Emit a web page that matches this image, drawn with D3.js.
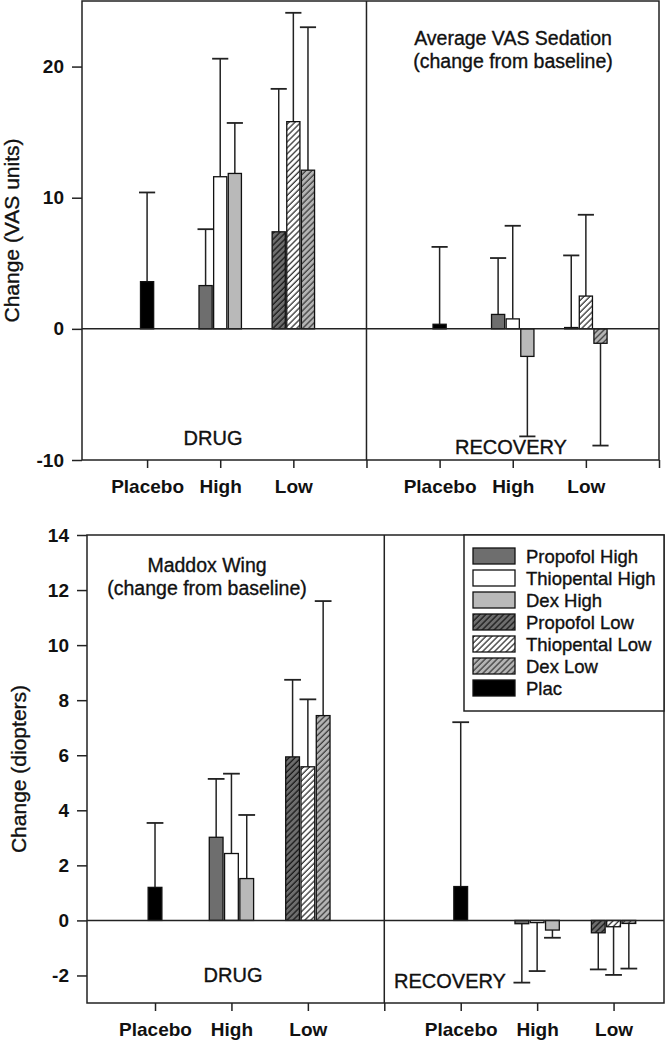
<!DOCTYPE html>
<html>
<head>
<meta charset="utf-8">
<script src="https://cdn.jsdelivr.net/npm/d3@7"></script>
<style>
  body { margin: 0; background: #fff; }
  text { font-family: "Liberation Sans", Arial, sans-serif; fill: #111; }
  .thick { stroke: #111; stroke-width: 0.35px; }
</style>
</head>
<body>
<div id="chart"></div>
<script>
// categories
var groups = ["Placebo", "High", "Low"];
var phases = ["DRUG", "RECOVERY"];
var series = ["Plac", "Propofol High", "Thiopental High", "Dex High", "Propofol Low", "Thiopental Low", "Dex Low"];
var seriesGroup = ["Placebo", "High", "High", "High", "Low", "Low", "Low"];
var legendOrder = ["Propofol High", "Thiopental High", "Dex High", "Propofol Low", "Thiopental Low", "Dex Low", "Plac"];

// VAS sedation (mean change, SD)
var vasDrugMean = [3.6, 3.3, 11.6, 11.85, 7.4, 15.8, 12.1];
var vasDrugSd = [6.8, 4.3, 9.0, 3.85, 10.9, 8.3, 10.9];
var vasRecMean = [0.35, 1.1, 0.76, -2.1, 0.1, 2.5, -1.1];
var vasRecSd = [5.9, 4.3, 7.1, 6.1, 5.5, 6.2, 7.8];
var vasTicks = [-10, 0, 10, 20];

// Maddox wing (mean change, SD)
var mwDrugMean = [1.2, 3.02, 2.43, 1.52, 5.94, 5.58, 7.44];
var mwDrugSd = [2.34, 2.12, 2.9, 2.31, 2.8, 2.45, 4.16];
var mwRecMean = [1.23, -0.12, -0.08, -0.35, -0.45, -0.23, -0.11];
var mwRecSd = [5.97, 2.14, 1.76, 0.28, 1.33, 1.75, 1.64];
var mwTicks = [-2, 0, 2, 4, 6, 8, 10, 12, 14];

var fills = {
  "Plac": "#000000",
  "Propofol High": "#6e6e6e",
  "Thiopental High": "#ffffff",
  "Dex High": "#b9b9b9",
  "Propofol Low": "url(#hatch_dark)",
  "Thiopental Low": "url(#hatch_white)",
  "Dex Low": "url(#hatch_light)"
};

var svg = d3.select('#chart').append('svg')
  .attr('width', 666)
  .attr('height', 1046);

// hatch patterns
var defs = svg.append('defs');
function hatch(id, bg, lineColor){
  var p = defs.append('pattern')
    .attr('id', id)
    .attr('patternUnits', 'userSpaceOnUse')
    .attr('width', 4.2)
    .attr('height', 4.2)
    .attr('patternTransform', 'rotate(45)');
  p.append('rect').attr('width', 4.2).attr('height', 4.2).attr('fill', bg);
  p.append('line')
    .attr('x1', 1).attr('y1', 0).attr('x2', 1).attr('y2', 4.2)
    .attr('stroke', lineColor).attr('stroke-width', 1.2);
}
hatch('hatch_dark', '#6e6e6e', '#111');
hatch('hatch_white', '#ffffff', '#222');
hatch('hatch_light', '#b4b4b4', '#333');

function drawPanel(cfg){
  var x = d3.scaleLinear().domain(cfg.xDomain).range([cfg.left, cfg.right]);
  var y = d3.scaleLinear().domain(cfg.yDomain).range([cfg.bottom, cfg.top]);
  var g = svg.append('g');

  // frame
  g.append('rect')
    .attr('x', cfg.left).attr('y', cfg.top)
    .attr('width', cfg.right - cfg.left).attr('height', cfg.bottom - cfg.top)
    .attr('fill', 'none').attr('stroke', '#222').attr('stroke-width', 1.5);

  // divider between drug and recovery
  g.append('line')
    .attr('x1', x(4)).attr('x2', x(4))
    .attr('y1', cfg.top).attr('y2', cfg.bottom)
    .attr('stroke', '#222').attr('stroke-width', 1.5);

  // y axis
  var yAxis = d3.axisLeft(y).tickValues(cfg.yTicks).tickSize(10).tickSizeOuter(0).tickPadding(8)
    .tickFormat(function(d){ return String(d); });
  var ya = g.append('g')
    .attr('transform', `translate(${cfg.left},0)`)
    .call(yAxis);
  ya.select('.domain').remove();
  ya.selectAll('line').attr('stroke', '#222').attr('stroke-width', 1.5);
  ya.selectAll('text').style('font-size', '19px').style('font-weight', 'bold')
    .style('font-family', '"Liberation Sans", Arial, sans-serif').attr('fill', '#111');

  // x axis
  var xAxis = d3.axisBottom(x).tickValues(cfg.xTicks).tickSize(8).tickSizeOuter(0).tickPadding(12)
    .tickFormat(function(d){
      if (d === 4 || d > 7) return '';
      return groups[(d - 1) % 4];
    });
  var xa = g.append('g')
    .attr('transform', `translate(0,${cfg.bottom})`)
    .call(xAxis);
  xa.select('.domain').remove();
  xa.selectAll('line').attr('stroke', '#222').attr('stroke-width', 1.5);
  xa.selectAll('text').style('font-size', '19px').style('font-weight', 'bold')
    .style('font-family', '"Liberation Sans", Arial, sans-serif').attr('fill', '#111');

  // bars
  var bw = 0.18;
  [cfg.drug, cfg.rec].forEach(function(ph, pi){
    var rows = series.map(function(s, i){
      var grp = seriesGroup[i];
      var members = seriesGroup.filter(function(v){ return v === grp; }).length;
      var slot = seriesGroup.slice(0, i).filter(function(v){ return v === grp; }).length - (members - 1) / 2;
      return {
        key: s,
        pos: pi * 4 + 1 + groups.indexOf(grp) + slot * 0.2,
        mean: ph.mean[i],
        sd: ph.sd[i]
      };
    });

    // error bars (one-sided, away from zero)
    var err = g.selectAll(null).data(rows).enter().append('g');
    err.append('line')
      .attr('x1', function(d){ return x(d.pos); })
      .attr('x2', function(d){ return x(d.pos); })
      .attr('y1', function(d){ return y(d.mean); })
      .attr('y2', function(d){ return y(d.mean + (d.mean < 0 ? -d.sd : d.sd)); })
      .attr('stroke', '#222').attr('stroke-width', 1.5);
    err.append('line')
      .attr('x1', function(d){ return x(d.pos - bw / 2) - 1.5; })
      .attr('x2', function(d){ return x(d.pos + bw / 2) + 1.5; })
      .attr('y1', function(d){ return y(d.mean + (d.mean < 0 ? -d.sd : d.sd)); })
      .attr('y2', function(d){ return y(d.mean + (d.mean < 0 ? -d.sd : d.sd)); })
      .attr('stroke', '#222').attr('stroke-width', 1.8);

    g.selectAll(null).data(rows).enter().append('rect')
      .attr('x', function(d){ return x(d.pos - bw / 2); })
      .attr('width', function(d){ return x(d.pos + bw / 2) - x(d.pos - bw / 2); })
      .attr('y', function(d){ return y(Math.max(0, d.mean)); })
      .attr('height', function(d){ return Math.abs(y(d.mean) - y(0)); })
      .attr('fill', function(d){ return fills[d.key]; })
      .attr('stroke', '#111').attr('stroke-width', 1.3);
  });

  // zero line
  g.append('line')
    .attr('x1', cfg.left).attr('x2', cfg.right)
    .attr('y1', y(0)).attr('y2', y(0))
    .attr('stroke', '#222').attr('stroke-width', 1.5);

  // phase labels
  g.append('text').text(phases[0]).attr('class', 'thick')
    .attr('x', cfg.drugLabel[0]).attr('y', cfg.drugLabel[1])
    .attr('text-anchor', 'middle').style('font-size', '20px');
  g.append('text').text(phases[1]).attr('class', 'thick')
    .attr('x', cfg.recLabel[0]).attr('y', cfg.recLabel[1])
    .attr('text-anchor', 'middle').style('font-size', '20px');

  // title
  cfg.title.forEach(function(t, i){
    g.append('text').text(t).attr('class', 'thick')
      .attr('x', cfg.titlePos[0]).attr('y', cfg.titlePos[1] + i * 23)
      .attr('text-anchor', 'middle').style('font-size', '19.5px');
  });

  // y label
  g.append('text').text(cfg.yLabel).attr('class', 'thick')
    .attr('transform', `translate(${cfg.yLabelX},${(cfg.top + cfg.bottom) / 2}) rotate(-90)`)
    .attr('text-anchor', 'middle').style('font-size', '21px');

  return g;
}

drawPanel({
  left: 82, right: 659, top: 1, bottom: 460,
  xDomain: [0.11, 8], yDomain: [-10, 25],
  xTicks: [1, 2, 3, 4, 5, 6, 7, 8], yTicks: vasTicks,
  drug: {mean: vasDrugMean, sd: vasDrugSd},
  rec: {mean: vasRecMean, sd: vasRecSd},
  drugLabel: [213, 445], recLabel: [511, 454],
  title: ["Average VAS Sedation", "(change from baseline)"], titlePos: [513, 45],
  yLabel: "Change (VAS units)", yLabelX: 19
});

drawPanel({
  left: 87, right: 664, top: 535, bottom: 1003,
  xDomain: [0.11, 7.66], yDomain: [-3, 14],
  xTicks: [1, 2, 3, 4, 5, 6, 7], yTicks: mwTicks,
  drug: {mean: mwDrugMean, sd: mwDrugSd},
  rec: {mean: mwRecMean, sd: mwRecSd},
  drugLabel: [233, 982], recLabel: [450, 988],
  title: ["Maddox Wing", "(change from baseline)"], titlePos: [207, 572],
  yLabel: "Change (diopters)", yLabelX: 26
});

// legend
var legend = svg.append('g').attr('transform', 'translate(464,535)');
legend.append('rect')
  .attr('width', 200).attr('height', 176)
  .attr('fill', '#fff').attr('stroke', '#222').attr('stroke-width', 1.5);
legendOrder.forEach(function(item, index){
  var row = legend.append('g').attr('transform', `translate(9,${13 + index * 22})`);
  row.append('rect')
    .attr('width', 42).attr('height', 16)
    .attr('fill', fills[item]).attr('stroke', '#111').attr('stroke-width', 1.3);
  row.append('text').text(item).attr('class', 'thick')
    .attr('x', 53).attr('y', 14.5)
    .style('font-size', '18.5px');
});
</script>
</body>
</html>
